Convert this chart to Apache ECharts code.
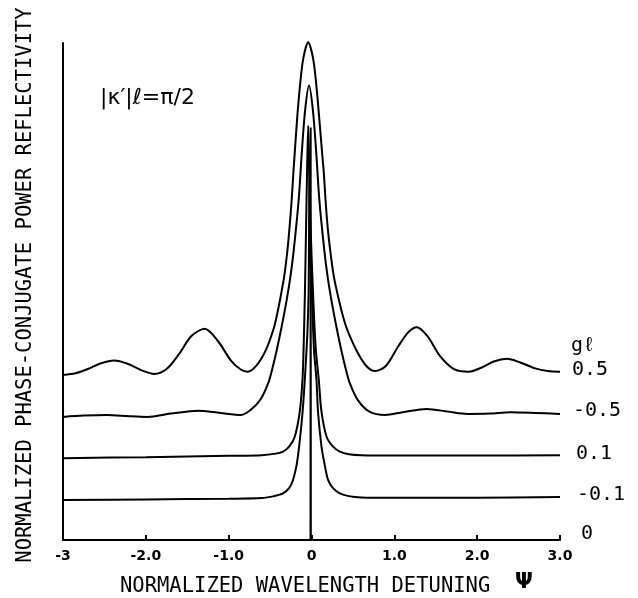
<!DOCTYPE html>
<html>
<head>
<meta charset="utf-8">
<script src="https://cdn.jsdelivr.net/npm/echarts@6/dist/echarts.min.js"></script>
<style>
html,body{margin:0;padding:0;background:#fff;}
#chart{width:638px;height:598px;}
</style>
</head>
<body>
<div id="chart"></div>
<script>
// ---- data ----
const xTicks = [-3, -2, -1, 0, 1, 2, 3];
const xTickLabels = ['-3', '-2.0', '-1.0', '0', '1.0', '2.0', '3.0'];
const curveNames = ['0.5', '-0.5', '0.1', '-0.1', '0'];
// vertical offset of each curve's baseline (normalized units)
const curveOffsets = [0.508, 0.377, 0.255, 0.127, 0];

// normalized reflectivity vs detuning, gl = 0.5
const refl_p05 = [
  [-3.00,-0.008],[-2.85,-0.003],[-2.70,0.010],[-2.55,0.027],[-2.38,0.036],[-2.22,0.026],
  [-2.05,0.006],[-1.90,-0.005],[-1.75,0.010],[-1.60,0.055],[-1.45,0.110],[-1.29,0.132],
  [-1.13,0.095],[-0.97,0.035],[-0.85,0.008],[-0.77,0.002],[-0.66,0.022],[-0.55,0.068],
  [-0.46,0.130],[-0.42,0.170],[-0.38,0.220],[-0.33,0.290],[-0.29,0.371],[-0.265,0.440],
  [-0.24,0.520],[-0.22,0.600],[-0.20,0.674],[-0.17,0.780],[-0.14,0.866],[-0.10,0.950],
  [-0.04,1.000],[0.02,0.950],[0.06,0.866],[0.09,0.780],[0.125,0.674],[0.15,0.600],
  [0.17,0.520],[0.195,0.440],[0.225,0.371],[0.27,0.290],[0.33,0.220],[0.38,0.170],
  [0.43,0.130],[0.54,0.068],[0.66,0.020],[0.767,0.004],
  [0.90,0.020],[1.05,0.080],[1.17,0.122],[1.27,0.137],[1.40,0.110],[1.55,0.050],
  [1.72,0.010],[1.90,0.002],[2.05,0.014],[2.20,0.033],[2.36,0.041],[2.52,0.030],
  [2.70,0.012],[2.85,0.004],[3.00,0.002]
];
// gl = -0.5
const refl_m05 = [
  [-3.00,-0.004],[-2.75,0.000],[-2.47,0.002],[-2.20,-0.002],[-1.98,-0.004],[-1.70,0.006],
  [-1.37,0.015],[-1.10,0.008],[-0.85,0.002],[-0.74,0.016],[-0.62,0.047],[-0.52,0.100],
  [-0.47,0.145],[-0.42,0.198],[-0.36,0.270],[-0.30,0.350],[-0.255,0.420],[-0.215,0.500],
  [-0.155,0.653],[-0.115,0.805],[-0.075,0.930],
  [-0.03,1.000],[0.015,0.930],[0.055,0.805],[0.095,0.653],[0.155,0.500],[0.195,0.420],
  [0.24,0.350],[0.30,0.270],[0.36,0.198],[0.41,0.145],[0.46,0.100],[0.56,0.047],
  [0.70,0.012],[0.89,0.002],[1.10,0.010],
  [1.39,0.020],[1.65,0.012],[1.88,0.005],[2.15,0.006],[2.40,0.010],[2.70,0.008],[3.00,0.005]
];
// gl = 0.1
const refl_p01 = [
  [-3.00,-0.007],[-2.00,-0.004],[-1.00,0.000],[-0.60,0.002],[-0.45,0.006],[-0.344,0.013],
  [-0.27,0.028],[-0.202,0.058],[-0.142,0.133],[-0.109,0.230],[-0.095,0.330],[-0.08,0.490],
  [-0.065,0.700],[-0.052,0.880],[-0.04,1.000],[-0.028,0.880],[-0.012,0.700],[0.019,0.490],
  [0.05,0.330],[0.088,0.230],[0.121,0.133],[0.182,0.058],[0.26,0.028],[0.343,0.013],
  [0.45,0.005],[0.60,0.002],[1.00,0.001],[2.00,0.001],[3.00,0.002]
];
// gl = -0.1
const refl_m01 = [
  [-3.00,-0.006],[-2.00,-0.004],[-1.00,-0.002],[-0.60,0.000],[-0.45,0.006],[-0.344,0.014],
  [-0.27,0.030],[-0.223,0.055],[-0.18,0.100],[-0.15,0.155],[-0.109,0.257],[-0.081,0.358],
  [-0.05,0.500],[-0.035,0.620],[-0.03,0.800],[-0.025,1.000],[-0.018,0.800],[0.005,0.620],
  [0.03,0.450],[0.06,0.358],[0.08,0.257],[0.121,0.155],[0.16,0.100],[0.20,0.055],
  [0.26,0.030],[0.343,0.014],[0.45,0.006],[0.60,0.002],[1.00,0.001],[2.00,0.001],[3.00,0.003]
];
// gl = 0 (delta-like spike at zero detuning)
const refl_0 = [
  [-3.00,0.000],[-0.012,0.000],[-0.010,1.250],[-0.008,0.000],[3.00,0.000]
];

const curveData = [refl_p05, refl_m05, refl_p01, refl_m01, refl_0];
const curveSmooth = [0.3, 0.3, 0.3, 0.3, 0];
const labelOffsets = [[12,-2],[13,-3.5],[16,-1],[17,-2.5],[21,-6]];

const MONO = '"DejaVu Sans Mono", "Liberation Mono", monospace';

const chart = echarts.init(document.getElementById('chart'), null, {renderer: 'canvas'});

const series = curveData.map((d, i) => ({
  name: curveNames[i],
  type: 'line',
  data: d.map(p => [p[0], p[1] + curveOffsets[i]]),
  showSymbol: false,
  symbol: 'none',
  smooth: curveSmooth[i] || false,
  clip: false,
  lineStyle: {color: '#000', width: 2},
  endLabel: {
    show: true,
    formatter: curveNames[i],
    color: '#000',
    fontFamily: MONO,
    fontSize: 20,
    distance: 0,
    offset: labelOffsets[i],
    align: 'left',
    verticalAlign: 'middle'
  },
  z: 3
}));

chart.setOption({
  animation: false,
  backgroundColor: '#fff',
  grid: {left: 63, right: 78, top: 43, bottom: 58, containLabel: false},
  xAxis: {
    type: 'value',
    min: -3, max: 3, interval: 1,
    axisLine: {show: true, onZero: false, lineStyle: {color: '#000', width: 2}},
    axisTick: {show: true, inside: true, length: 5, lineStyle: {color: '#000', width: 2}},
    splitLine: {show: false},
    axisLabel: {
      show: true, margin: 9, showMinLabel: true, showMaxLabel: true,
      color: '#000', fontFamily: '"DejaVu Sans", sans-serif', fontWeight: 'bold', fontSize: 14,
      formatter: v => { const k = xTicks.indexOf(Math.round(v)); return k >= 0 ? xTickLabels[k] : ''; }
    }
  },
  yAxis: {
    type: 'value',
    min: 0, max: 1.506,
    axisLine: {show: true, onZero: false, lineStyle: {color: '#000', width: 2}},
    axisTick: {show: false},
    axisLabel: {show: false},
    splitLine: {show: false}
  },
  series: series,
  graphic: [
    {type: 'text', left: 100, top: 87, style: {text: '|κ′|ℓ=π/2', fontFamily: '"DejaVu Sans", sans-serif', fontSize: 22, fill: '#000'}},
    {type: 'text', left: 571, top: 336, style: {text: 'gℓ', fontFamily: MONO, fontSize: 20, fill: '#000'}},
    {type: 'text', left: 120, top: 576, style: {text: 'NORMALIZED WAVELENGTH DETUNING', fontFamily: MONO, fontSize: 20.5, fill: '#000'}},
    {type: 'text', left: 515, top: 572, style: {text: 'Ψ', fontFamily: '"DejaVu Sans", sans-serif', fontWeight: 'bold', fontSize: 21, fill: '#000'}},
    {type: 'text', x: 26, y: 285, rotation: Math.PI / 2,
      style: {text: 'NORMALIZED PHASE-CONJUGATE POWER REFLECTIVITY', fontFamily: MONO, fontSize: 20.5, fill: '#000',
        align: 'center', verticalAlign: 'middle'}}
  ]
});
</script>
</body>
</html>
